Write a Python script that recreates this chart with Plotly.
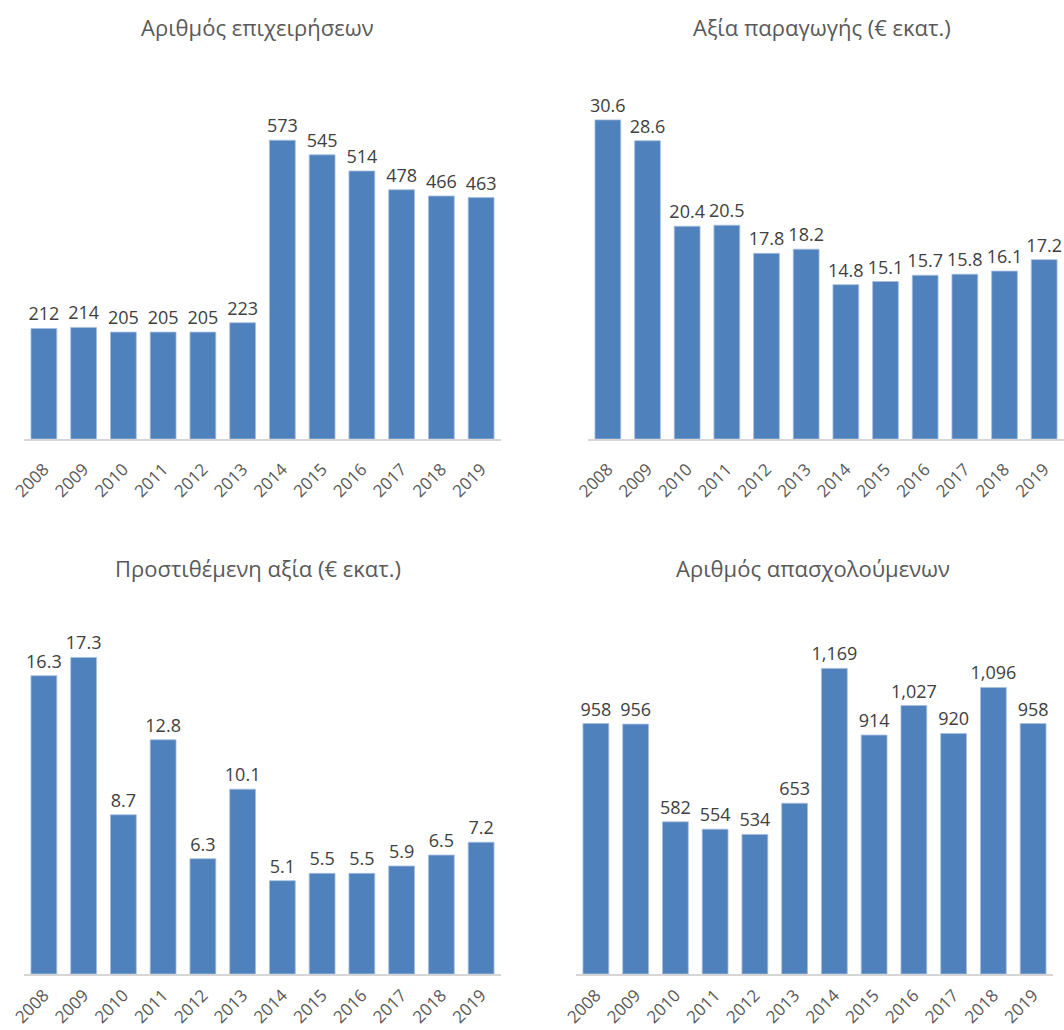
import plotly.graph_objects as go
from plotly.subplots import make_subplots

years = [str(y) for y in range(2008, 2020)]

enterprises = [212, 214, 205, 205, 205, 223, 573, 545, 514, 478, 466, 463]
production_value = [30.6, 28.6, 20.4, 20.5, 17.8, 18.2, 14.8, 15.1, 15.7, 15.8, 16.1, 17.2]
value_added = [16.3, 17.3, 8.7, 12.8, 6.3, 10.1, 5.1, 5.5, 5.5, 5.9, 6.5, 7.2]
employees = [958, 956, 582, 554, 534, 653, 1169, 914, 1027, 920, 1096, 958]

titles = [
    "Αριθμός επιχειρήσεων",
    "Αξία παραγωγής (€ εκατ.)",
    "Προστιθέμενη αξία (€ εκατ.)",
    "Αριθμός απασχολούμενων",
]

W, H = 1064, 1030
FONT = "Open Sans"
BAR = "#4F81BD"

fig = make_subplots(rows=2, cols=2)

panels = [
    (enterprises, 1, 1, "%{y}", 700),
    (production_value, 1, 2, "%{y:.1f}", 35),
    (value_added, 2, 1, "%{y:.1f}", 20),
    (employees, 2, 2, "%{y:,}", 1400),
]

for vals, r, c, tmpl, ymax in panels:
    fig.add_trace(
        go.Bar(
            x=years,
            y=vals,
            marker=dict(color=BAR, line=dict(color="#A7BFDF", width=0.8)),
            texttemplate=tmpl,
            textposition="outside",
            constraintext="none",
            cliponaxis=False,
            textfont=dict(family=FONT, size=18, color="#404040"),
            showlegend=False,
            hoverinfo="skip",
        ),
        row=r,
        col=c,
    )
    fig.update_yaxes(
        range=[0, ymax],
        showgrid=False,
        zeroline=False,
        showticklabels=False,
        showline=False,
        automargin=False,
        row=r,
        col=c,
    )
    fig.update_xaxes(
        showline=True,
        linecolor="#D6D6D6",
        linewidth=1.5,
        showgrid=False,
        ticks="",
        tickangle=-45,
        ticklabelstandoff=12 if r == 1 else 3,
        automargin=False,
        tickfont=dict(family=FONT, size=17, color="#595959"),
        row=r,
        col=c,
    )

# pixel-based domains (top-left origin)
def xdom(a, b):
    return [a / W, min(b / W, 1.0)]


def ydom(top, bottom):
    return [1 - bottom / H, 1 - top / H]


fig.update_layout(
    xaxis=dict(domain=xdom(24, 501)),
    xaxis2=dict(domain=xdom(588, 1065)),
    xaxis3=dict(domain=xdom(24, 501)),
    xaxis4=dict(domain=xdom(576, 1053)),
    yaxis=dict(domain=ydom(74, 439)),
    yaxis2=dict(domain=ydom(74, 439)),
    yaxis3=dict(domain=ydom(608, 974)),
    yaxis4=dict(domain=ydom(608, 974)),
)

title_pos = [(257, 27), (822, 27), (258, 568), (813, 568)]
for t, (tx, ty) in zip(titles, title_pos):
    fig.add_annotation(
        text=t,
        x=tx / W,
        y=1 - ty / H,
        xref="paper",
        yref="paper",
        showarrow=False,
        xanchor="center",
        yanchor="middle",
        font=dict(family=FONT, size=22, color="#595959"),
    )

fig.update_layout(
    width=W,
    height=H,
    margin=dict(l=0, r=0, t=0, b=0),
    paper_bgcolor="white",
    plot_bgcolor="white",
    bargap=0.35,
    font=dict(family=FONT),
)

fig.write_html(
    "out.html",
    config={"displayModeBar": False},
    post_script="document.body.style.margin='0';",
)
